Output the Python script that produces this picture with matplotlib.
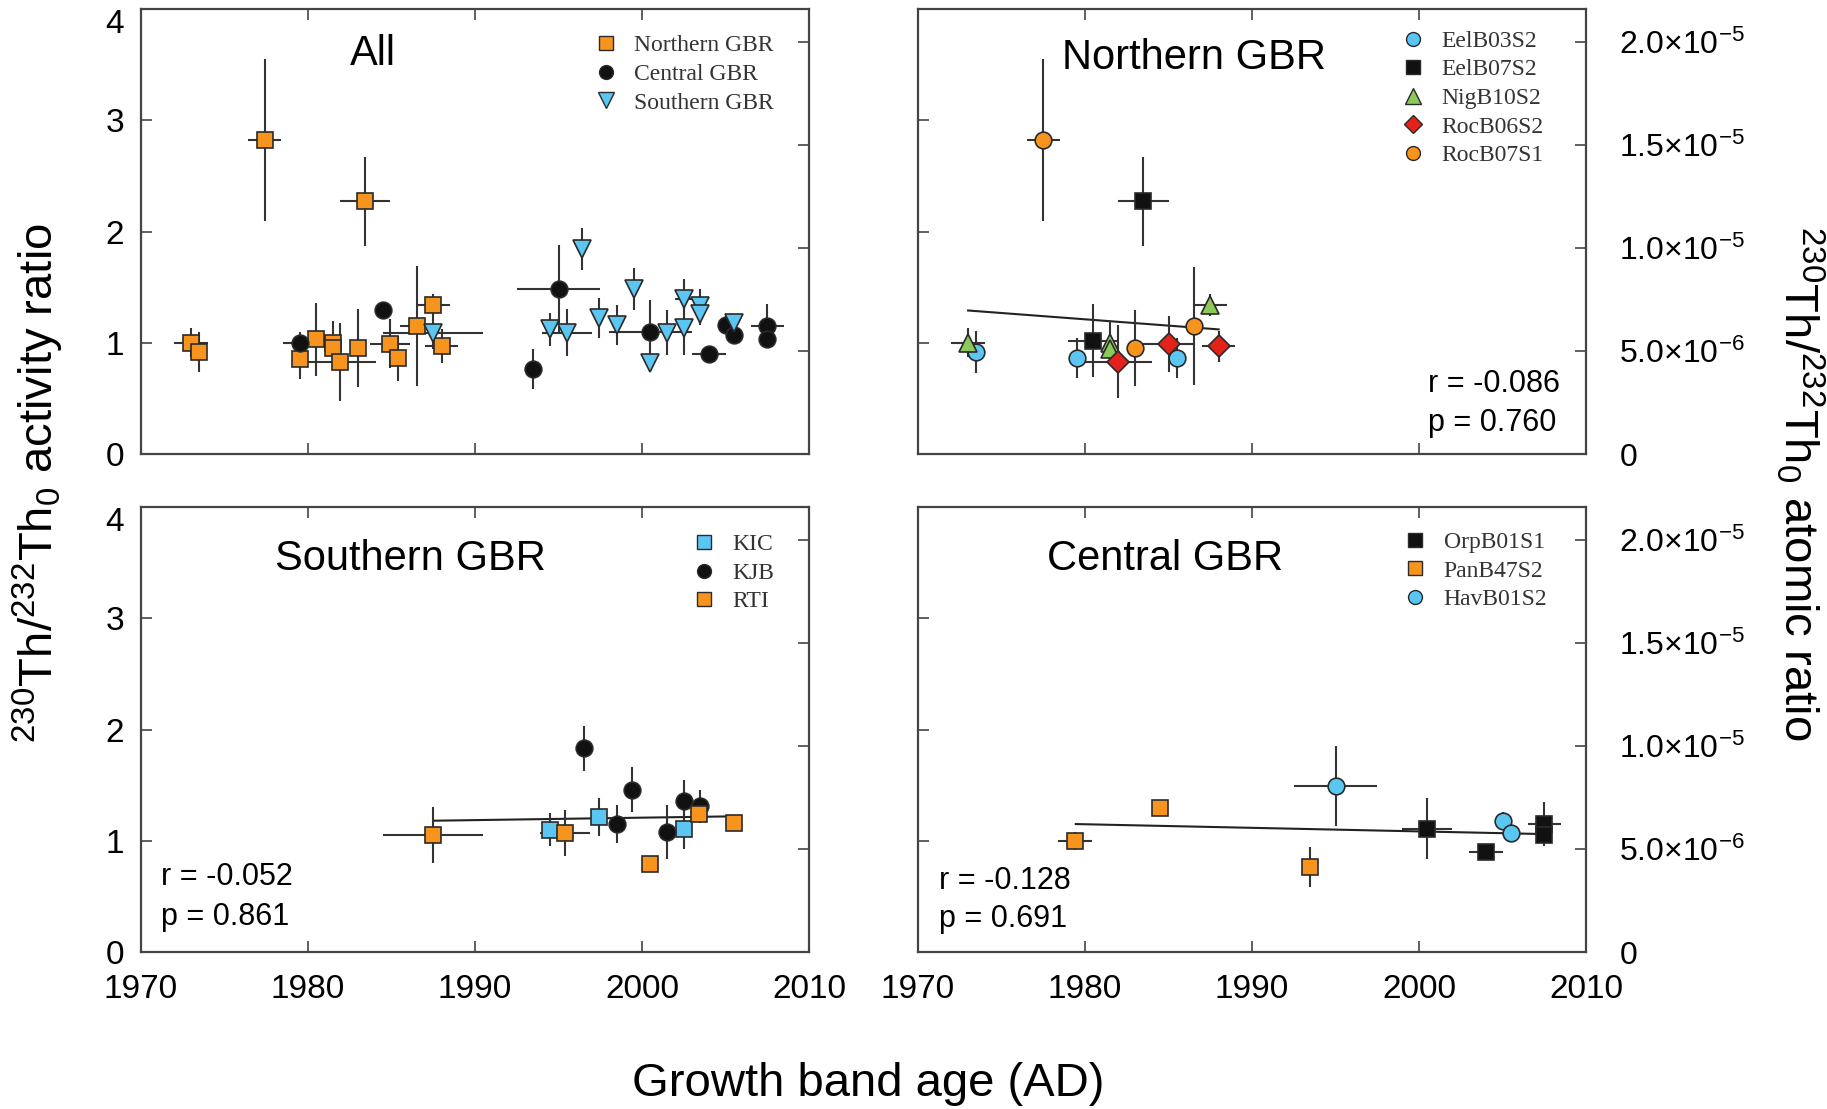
import matplotlib
matplotlib.use("Agg")
import matplotlib.pyplot as plt
from matplotlib.lines import Line2D
from matplotlib.font_manager import FontProperties

plt.rcParams['font.family'] = ['Liberation Sans', 'DejaVu Sans']
plt.rcParams['mathtext.fontset'] = 'custom'
plt.rcParams['mathtext.rm'] = 'Liberation Sans'
plt.rcParams['mathtext.it'] = 'Liberation Sans:italic'
plt.rcParams['mathtext.bf'] = 'Liberation Sans:bold'

# ---------------- data ----------------
# Panel "All"
all_north_x = [1973.0, 1973.5, 1977.4, 1983.4, 1979.5, 1980.5, 1981.5, 1981.5, 1981.9, 1983.0, 1984.9, 1985.4, 1986.5, 1987.5, 1988.0]
all_north_y = [1.00, 0.92, 2.82, 2.27, 0.85, 1.03, 1.00, 0.95, 0.83, 0.95, 0.99, 0.86, 1.15, 1.34, 0.97]
all_north_xerr = [1.0, 0, 1.0, 1.5, 0, 0, 0, 0, 2.2, 0, 1.2, 0, 1.0, 1.0, 1.0]
all_north_yerr = [0.13, 0.18, 0.73, 0.40, 0.18, 0.33, 0.20, 0.12, 0.35, 0.35, 0.22, 0.20, 0.54, 0.10, 0.15]

all_central_x = [1979.5, 1984.5, 1993.5, 1995.0, 2000.5, 2004.0, 2005.0, 2005.5, 2007.5, 2007.5]
all_central_y = [1.00, 1.29, 0.76, 1.48, 1.10, 0.90, 1.16, 1.07, 1.15, 1.03]
all_central_xerr = [1.0, 0, 0, 2.5, 2.5, 1.0, 0, 0, 1.0, 0]
all_central_yerr = [0.10, 0, 0.18, 0.40, 0.28, 0.05, 0.08, 0, 0.20, 0.08]

all_south_x = [1987.5, 1994.5, 1995.5, 1996.4, 1997.4, 1998.5, 1999.5, 2000.5, 2001.5, 2002.5, 2002.5, 2003.5, 2003.5, 2005.5]
all_south_y = [1.09, 1.12, 1.09, 1.84, 1.22, 1.16, 1.48, 0.82, 1.09, 1.13, 1.39, 1.33, 1.26, 1.18]
all_south_xerr = [3.0, 0, 1.5, 0, 0, 0, 0, 0, 0, 0, 0.5, 0.5, 0, 0]
all_south_yerr = [0.15, 0.15, 0.21, 0.19, 0.18, 0.18, 0.19, 0.07, 0.20, 0.24, 0.18, 0.15, 0.10, 0.06]

# Panel "Northern GBR"
eel03_x = [1973.5, 1979.5, 1985.5]
eel03_y = [0.92, 0.86, 0.86]
eel03_xerr = [0, 0, 0]
eel03_yerr = [0.19, 0.18, 0.18]

eel07_x = [1980.5, 1983.5]
eel07_y = [1.02, 2.27]
eel07_xerr = [1.5, 1.5]
eel07_yerr = [0.33, 0.40]

nig10_x = [1973.0, 1981.5, 1981.5, 1987.5]
nig10_y = [1.00, 1.00, 0.94, 1.34]
nig10_xerr = [1.0, 0, 0, 1.0]
nig10_yerr = [0.13, 0.20, 0.10, 0.10]

roc06_x = [1982.0, 1985.0, 1988.0]
roc06_y = [0.83, 0.99, 0.97]
roc06_xerr = [2.0, 1.5, 1.0]
roc06_yerr = [0.33, 0.25, 0.14]

roc07_x = [1977.5, 1983.0, 1986.5]
roc07_y = [2.82, 0.95, 1.15]
roc07_xerr = [1.0, 0, 0]
roc07_yerr = [0.73, 0.34, 0.53]

trend_north_x = [1973.0, 1988.0]
trend_north_y = [1.29, 1.12]

# Panel "Southern GBR"
kic_x = [1994.5, 1997.4, 2002.5]
kic_y = [1.10, 1.21, 1.11]
kic_xerr = [0, 0, 0]
kic_yerr = [0.15, 0.17, 0.18]

kjb_x = [1996.5, 1998.5, 1999.4, 2001.5, 2002.5, 2003.5]
kjb_y = [1.83, 1.15, 1.46, 1.08, 1.36, 1.31]
kjb_xerr = [0, 0, 0, 0, 0, 0]
kjb_yerr = [0.20, 0.17, 0.20, 0.24, 0.19, 0.15]

rti_x = [1987.5, 1995.4, 2000.5, 2003.4, 2005.5]
rti_y = [1.05, 1.07, 0.79, 1.24, 1.16]
rti_xerr = [3.0, 1.5, 0, 0, 0]
rti_yerr = [0.25, 0.21, 0, 0.06, 0.07]

trend_south_x = [1987.5, 2005.7]
trend_south_y = [1.18, 1.22]

# Panel "Central GBR"
orp_x = [2000.5, 2004.0, 2007.5, 2007.5]
orp_y = [1.11, 0.90, 1.15, 1.05]
orp_xerr = [1.5, 1.0, 1.0, 0]
orp_yerr = [0.27, 0.05, 0.20, 0.08]

pan_x = [1979.4, 1984.5, 1993.5]
pan_y = [1.00, 1.29, 0.76]
pan_xerr = [1.0, 0, 0]
pan_yerr = [0.08, 0, 0.18]

hav_x = [1995.0, 2005.0, 2005.5]
hav_y = [1.49, 1.18, 1.07]
hav_xerr = [2.5, 0, 0]
hav_yerr = [0.36, 0.08, 0]

trend_central_x = [1979.45, 2007.5]
trend_central_y = [1.15, 1.06]

stats_north = ["r = -0.086", "p = 0.760"]
stats_south = ["r = -0.052", "p = 0.861"]
stats_central = ["r = -0.128", "p = 0.691"]

year_ticks = [1970, 1980, 1990, 2000, 2010]
activity_ticks = [0, 1, 2, 3, 4]
atomic_ticks = [0, 5e-6, 1e-5, 1.5e-5, 2e-5]
atomic_labels = ["0", r"5.0×10$^{-6}$", r"1.0×10$^{-5}$", r"1.5×10$^{-5}$", r"2.0×10$^{-5}$"]

# decay-constant ratio lambda232 / lambda230 converts activity to atomic ratio
ATOMIC_PER_ACTIVITY = 4.9475e-11 / 9.1577e-6

# ---------------- styles ----------------
ORANGE = '#F7941D'
BLUE = '#5CC6F2'
GREEN = '#8DC85A'
RED = '#E3231B'
BLACK = '#111111'
EDGE = '#2a2a2a'
ERR = '#333333'
SPINE = '#444444'

STYLE = {
    'sq_orange': dict(marker='s', color=ORANGE, ms=12),
    'sq_blue': dict(marker='s', color=BLUE, ms=12),
    'sq_black': dict(marker='s', color=BLACK, ms=12),
    'ci_black': dict(marker='o', color=BLACK, ms=12),
    'ci_blue': dict(marker='o', color=BLUE, ms=12),
    'ci_orange': dict(marker='o', color=ORANGE, ms=12),
    'tri_down_blue': dict(marker='v', color=BLUE, ms=13),
    'tri_up_green': dict(marker='^', color=GREEN, ms=13),
    'dia_red': dict(marker='D', color=RED, ms=11),
}


def draw_series(ax, x, y, xerr, yerr, key):
    st = STYLE[key]
    ax.errorbar(x, y, xerr=xerr, yerr=yerr, fmt=st['marker'], ms=st['ms'],
                mfc=st['color'], mec=EDGE, mew=1.2, ecolor=ERR,
                elinewidth=1.5, capsize=0, zorder=3)


def legend_handle(key):
    st = STYLE[key]
    return Line2D([], [], ls='none', marker=st['marker'], ms=st['ms'] - 2,
                  mfc=st['color'], mec=EDGE, mew=1.0)


def add_legend(ax, entries, anchor):
    handles = [legend_handle(k) for k, _ in entries]
    labels = [lab for _, lab in entries]
    ax.legend(handles, labels, loc='upper left', bbox_to_anchor=anchor,
              frameon=False, prop=FontProperties(family='Liberation Serif', size=17),
              handlelength=1.0, handletextpad=0.7, labelspacing=0.3,
              borderaxespad=0, borderpad=0, labelcolor='#333333')


def setup_axes(ax, left_labels, right_labels, bottom_labels):
    ax.set_xlim(1970, 2010)
    ax.set_ylim(0, 4)
    ax.set_xticks(year_ticks)
    ax.set_yticks(activity_ticks)
    for sp in ax.spines.values():
        sp.set_color(SPINE)
        sp.set_linewidth(1.6)
    ax.tick_params(direction='in', length=8, width=1.2, color=SPINE,
                   top=True, right=False, labelsize=24, pad=12,
                   labelleft=left_labels, labelbottom=bottom_labels)
    ax.tick_params(axis='x', pad=16)
    if left_labels:
        ax.get_yticklabels()[-1].set_va('top')
    sec = ax.secondary_yaxis('right', functions=(lambda a: a * ATOMIC_PER_ACTIVITY,
                                                 lambda r: r / ATOMIC_PER_ACTIVITY))
    sec.set_yticks(atomic_ticks)
    sec.tick_params(direction='in', length=8, width=1.2, color=SPINE,
                    labelsize=23, pad=24)
    if right_labels:
        sec.set_yticklabels(atomic_labels)
    else:
        sec.set_yticklabels([])
    sec.spines['right'].set_visible(False)
    return sec


fig = plt.figure(figsize=(18.27, 11.09), dpi=100)
W, H = 1827.0, 1109.0
col_x = [141 / W, 918 / W]
row_y = [1 - 454 / H, 1 - 952 / H]
aw, ah = 668 / W, 445 / H

ax_all = fig.add_axes([col_x[0], row_y[0], aw, ah])
ax_north = fig.add_axes([col_x[1], row_y[0], aw, ah])
ax_south = fig.add_axes([col_x[0], row_y[1], aw, ah])
ax_central = fig.add_axes([col_x[1], row_y[1], aw, ah])

setup_axes(ax_all, True, False, False)
setup_axes(ax_north, False, True, False)
setup_axes(ax_south, True, False, True)
setup_axes(ax_central, False, True, True)

# All
draw_series(ax_all, all_north_x, all_north_y, all_north_xerr, all_north_yerr, 'sq_orange')
draw_series(ax_all, all_central_x, all_central_y, all_central_xerr, all_central_yerr, 'ci_black')
draw_series(ax_all, all_south_x, all_south_y, all_south_xerr, all_south_yerr, 'tri_down_blue')
ax_all.text(0.347, 0.898, "All", transform=ax_all.transAxes, ha='center', va='center', fontsize=30)
add_legend(ax_all, [('sq_orange', 'Northern GBR'), ('ci_black', 'Central GBR'),
                    ('tri_down_blue', 'Southern GBR')], (0.678, 0.942))

# Northern GBR
ax_north.plot(trend_north_x, trend_north_y, color='#222222', lw=1.5, zorder=2)
draw_series(ax_north, eel03_x, eel03_y, eel03_xerr, eel03_yerr, 'ci_blue')
draw_series(ax_north, eel07_x, eel07_y, eel07_xerr, eel07_yerr, 'sq_black')
draw_series(ax_north, nig10_x, nig10_y, nig10_xerr, nig10_yerr, 'tri_up_green')
draw_series(ax_north, roc06_x, roc06_y, roc06_xerr, roc06_yerr, 'dia_red')
draw_series(ax_north, roc07_x, roc07_y, roc07_xerr, roc07_yerr, 'ci_orange')
ax_north.text(0.413, 0.89, "Northern GBR", transform=ax_north.transAxes, ha='center', va='center', fontsize=30)
add_legend(ax_north, [('ci_blue', 'EelB03S2'), ('sq_black', 'EelB07S2'), ('tri_up_green', 'NigB10S2'),
                      ('dia_red', 'RocB06S2'), ('ci_orange', 'RocB07S1')], (0.724, 0.952))
ax_north.text(0.763, 0.157, stats_north[0], transform=ax_north.transAxes, ha='left', va='center', fontsize=22)
ax_north.text(0.763, 0.070, stats_north[1], transform=ax_north.transAxes, ha='left', va='center', fontsize=22)

# Southern GBR
ax_south.plot(trend_south_x, trend_south_y, color='#222222', lw=1.5, zorder=2)
draw_series(ax_south, kic_x, kic_y, kic_xerr, kic_yerr, 'sq_blue')
draw_series(ax_south, kjb_x, kjb_y, kjb_xerr, kjb_yerr, 'ci_black')
draw_series(ax_south, rti_x, rti_y, rti_xerr, rti_yerr, 'sq_orange')
ax_south.text(0.403, 0.883, "Southern GBR", transform=ax_south.transAxes, ha='center', va='center', fontsize=30)
add_legend(ax_south, [('sq_blue', 'KIC'), ('ci_black', 'KJB'), ('sq_orange', 'RTI')], (0.825, 0.940))
ax_south.text(0.03, 0.169, stats_south[0], transform=ax_south.transAxes, ha='left', va='center', fontsize=22)
ax_south.text(0.03, 0.079, stats_south[1], transform=ax_south.transAxes, ha='left', va='center', fontsize=22)

# Central GBR
ax_central.plot(trend_central_x, trend_central_y, color='#222222', lw=1.5, zorder=2)
draw_series(ax_central, orp_x, orp_y, orp_xerr, orp_yerr, 'sq_black')
draw_series(ax_central, pan_x, pan_y, pan_xerr, pan_yerr, 'sq_orange')
draw_series(ax_central, hav_x, hav_y, hav_xerr, hav_yerr, 'ci_blue')
ax_central.text(0.37, 0.883, "Central GBR", transform=ax_central.transAxes, ha='center', va='center', fontsize=30)
add_legend(ax_central, [('sq_black', 'OrpB01S1'), ('sq_orange', 'PanB47S2'), ('ci_blue', 'HavB01S2')],
           (0.727, 0.945))
ax_central.text(0.031, 0.160, stats_central[0], transform=ax_central.transAxes, ha='left', va='center', fontsize=22)
ax_central.text(0.031, 0.074, stats_central[1], transform=ax_central.transAxes, ha='left', va='center', fontsize=22)

# Shared axis titles
fig.text(868 / W, 1 - 1084 / H, "Growth band age (AD)", ha='center', va='center', fontsize=34)
fig.text(38 / W, 1 - 483 / H, r"$^{230}$Th/$^{232}$Th$_0$ activity ratio", rotation=90,
         ha='center', va='center', fontsize=34)
fig.text(1800 / W, 1 - 483 / H, r"$^{230}$Th/$^{232}$Th$_0$ atomic ratio", rotation=270,
         ha='center', va='center', fontsize=34)

fig.savefig("out.png", dpi=100)
